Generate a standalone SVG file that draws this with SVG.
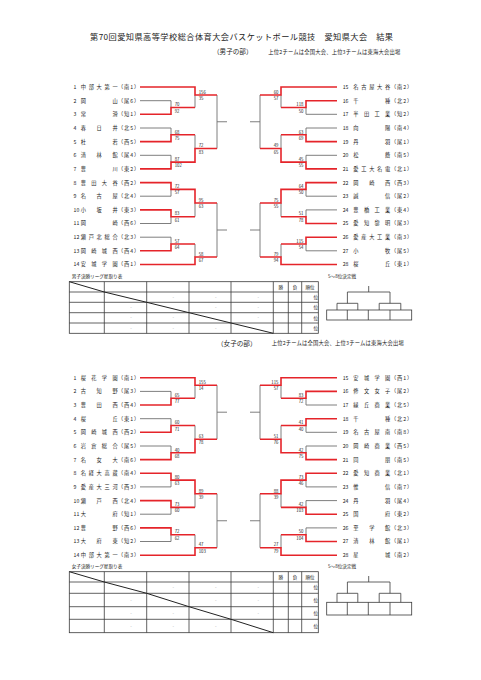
<svg xmlns="http://www.w3.org/2000/svg" width="481" height="680" viewBox="0 0 481 680">
<style>
text{font-family:"Noto Sans CJK JP","Noto Sans",sans-serif;fill:#222}
.t{font-size:5.2px}
.n2{letter-spacing:26.6px}
.n3{letter-spacing:10.7px}
.n4{letter-spacing:5.4px}
.n5{letter-spacing:2.75px}
.p{letter-spacing:0.9px}
.s{font-size:4.3px;fill:#333}
.e{text-anchor:end}
.w{fill:none;stroke:#e5242a;stroke-width:1.6}
.l{fill:none;stroke:#707070;stroke-width:0.9}
.tb{fill:none;stroke:#3a3a3a;stroke-width:0.8}
.dg{fill:none;stroke:#222;stroke-width:1}
.h{font-size:4.6px}
.m{text-anchor:middle}
.d{font-size:4.5px;fill:#9a9a9a;text-anchor:middle}
.ttl{font-size:8.2px}
.sec{font-size:6.6px}
.note{font-size:5.3px}
</style>
<rect width="481" height="680" fill="#fff"/>
<g id="title">
<text class="ttl" x="90" y="39.7" textLength="303">第70回愛知県高等学校総合体育大会バスケットボール競技　愛知県大会　結果</text>
<text class="sec" x="213" y="54.1">（男子の部）</text>
<text class="note" x="268.3" y="53.8" textLength="132">上位2チームは全国大会、上位3チームは東海大会出場</text>
<text class="sec" x="217" y="345.7">（女子の部）</text>
<text class="note" x="271.7" y="345.4" textLength="132">上位2チームは全国大会、上位3チームは東海大会出場</text>
</g>
<g id="connectors">
<path class="l" d="M140 100.7H171V107.5M195 95V107.5M140 128H171V134.8M140 155.3H171V162.1M195 134.8V148.5M217 95V148.5M217 121.75H227M140 196.2H171V189.4M140 223.5H171V216.7M195 203V216.7M140 237.2H171V244M195 244V257M217 203V257M217 230H227M337 114.3H306V107.5M281 95V107.5M337 128H306V134.8M337 155.3H306V162.1M281 134.8V148.5M260 95V148.5M260 121.75H250M337 196.2H306V189.4M337 209.9H306V216.7M281 203V216.7M337 250.8H306V244M281 244V257M260 203V257M260 230H250"/>
<path class="l" d="M140 391.4H171V398.2M195 385.2V398.2M140 418.7H171V425.5M140 446H171V452.8M195 425.5V439.2M217 385.2V439.2M217 412.2H227M140 486.9H171V480.1M140 514.2H171V507.4M195 493.8V507.4M140 541.5H171V534.7M195 534.7V547.7M217 493.8V547.7M217 520.75H227M337 405H306V398.2M281 385.2V398.2M337 432.3H306V425.5M337 446H306V452.8M281 425.5V439.2M260 385.2V439.2M260 412.2H250M337 486.9H306V480.1M337 500.6H306V507.4M281 493.8V507.4M337 527.9H306V534.7M281 534.7V547.7M260 493.8V547.7M260 520.75H250"/>
<path class="w" d="M140 87H195V95H217M140 114.3H171V107.5H195M140 141.6H171V134.8H195M140 168.9H171V162.1H195V148.5H217M140 182.6H171V189.4H195V203H217M140 209.9H171V216.7H195M140 250.8H171V244H195M140 264.5H195V257H217M337 87H281V95H260M337 100.7H306V107.5H281M337 141.6H306V134.8H281M337 168.9H306V162.1H281V148.5H260M337 182.6H306V189.4H281V203H260M337 223.5H306V216.7H281M337 237.2H306V244H281M337 264.5H281V257H260"/>
<path class="w" d="M140 377.7H195V385.2H217M140 405H171V398.2H195M140 432.3H171V425.5H195M140 459.6H171V452.8H195V439.2H217M140 473.3H171V480.1H195V493.8H217M140 500.6H171V507.4H195M140 527.9H171V534.7H195M140 555.2H195V547.7H217M337 377.7H281V385.2H260M337 391.4H306V398.2H281M337 418.7H306V425.5H281M337 459.6H306V452.8H281V439.2H260M337 473.3H306V480.1H281V493.8H260M337 514.2H306V507.4H281M337 541.5H306V534.7H281M337 555.2H281V547.7H260"/>
</g>
<g id="scores-boys" class="s">
<text x="174.7" y="106.2">70</text><text x="174.7" y="112.5">92</text>
<text x="198.7" y="93.7">156</text><text x="198.7" y="100">35</text>
<text x="174.7" y="133.5">68</text><text x="174.7" y="139.8">75</text>
<text x="174.7" y="160.8">87</text><text x="174.7" y="167.1">102</text>
<text x="198.7" y="147.2">72</text><text x="198.7" y="153.5">83</text>
<text x="174.7" y="188.1">72</text><text x="174.7" y="194.4">57</text>
<text x="174.7" y="215.4">83</text><text x="174.7" y="221.7">61</text>
<text x="198.7" y="201.7">95</text><text x="198.7" y="208">63</text>
<text x="174.7" y="242.7">57</text><text x="174.7" y="249">64</text>
<text x="198.7" y="255.7">58</text><text x="198.7" y="262">67</text>
<g class="e">
<text x="303.5" y="106.2">118</text><text x="303.5" y="112.5">50</text>
<text x="278.5" y="93.7">60</text><text x="278.5" y="100">57</text>
<text x="303.5" y="133.5">63</text><text x="303.5" y="139.8">69</text>
<text x="303.5" y="160.8">45</text><text x="303.5" y="167.1">55</text>
<text x="278.5" y="147.2">49</text><text x="278.5" y="153.5">65</text>
<text x="303.5" y="188.1">64</text><text x="303.5" y="194.4">50</text>
<text x="303.5" y="215.4">51</text><text x="303.5" y="221.7">78</text>
<text x="278.5" y="201.7">75</text><text x="278.5" y="208">55</text>
<text x="303.5" y="242.7">115</text><text x="303.5" y="249">54</text>
<text x="278.5" y="255.7">79</text><text x="278.5" y="262">94</text>
</g>
</g>
<g id="scores-girls" class="s">
<text x="174.7" y="396.9">65</text><text x="174.7" y="403.2">77</text>
<text x="198.7" y="383.9">155</text><text x="198.7" y="390.2">14</text>
<text x="174.7" y="424.2">60</text><text x="174.7" y="430.5">71</text>
<text x="174.7" y="451.5">40</text><text x="174.7" y="457.8">68</text>
<text x="198.7" y="437.9">63</text><text x="198.7" y="444.2">78</text>
<text x="174.7" y="478.8">80</text><text x="174.7" y="485.1">63</text>
<text x="174.7" y="506.1">73</text><text x="174.7" y="512.4">60</text>
<text x="198.7" y="492.5">89</text><text x="198.7" y="498.8">39</text>
<text x="174.7" y="533.4">72</text><text x="174.7" y="539.7">62</text>
<text x="198.7" y="546.4">47</text><text x="198.7" y="552.7">103</text>
<g class="e">
<text x="303.5" y="396.9">83</text><text x="303.5" y="403.2">72</text>
<text x="278.5" y="383.9">115</text><text x="278.5" y="390.2">57</text>
<text x="303.5" y="424.2">41</text><text x="303.5" y="430.5">40</text>
<text x="303.5" y="451.5">42</text><text x="303.5" y="457.8">75</text>
<text x="278.5" y="437.9">51</text><text x="278.5" y="444.2">76</text>
<text x="303.5" y="478.8">73</text><text x="303.5" y="485.1">46</text>
<text x="303.5" y="506.1">42</text><text x="303.5" y="512.4">103</text>
<text x="278.5" y="492.5">88</text><text x="278.5" y="498.8">39</text>
<text x="303.5" y="533.4">50</text><text x="303.5" y="539.7">104</text>
<text x="278.5" y="546.4">27</text><text x="278.5" y="552.7">79</text>
</g>
</g>
<g id="boys-teams" class="t">
<g id="b1" transform="translate(0 88.9)"><text x="73.5">1</text><text x="80.7"><tspan class="n5">中部大第</tspan>一</text><text class="p" x="118">（南1）</text></g>
<g id="b2" transform="translate(0 102.6)"><text x="73.5">2</text><text x="80.7"><tspan class="n2">岡</tspan>山</text><text class="p" x="118">（尾6）</text></g>
<g id="b3" transform="translate(0 116.2)"><text x="73.5">3</text><text x="80.7"><tspan class="n2">常</tspan>滑</text><text class="p" x="118">（知1）</text></g>
<g id="b4" transform="translate(0 129.9)"><text x="73.5">4</text><text x="80.7"><tspan class="n3">春日</tspan>井</text><text class="p" x="118">（北5）</text></g>
<g id="b5" transform="translate(0 143.5)"><text x="73.5">5</text><text x="80.7"><tspan class="n2">杜</tspan>若</text><text class="p" x="118">（西5）</text></g>
<g id="b6" transform="translate(0 157.2)"><text x="73.5">6</text><text x="80.7"><tspan class="n3">清林</tspan>館</text><text class="p" x="118">（尾4）</text></g>
<g id="b7" transform="translate(0 170.8)"><text x="73.5">7</text><text x="80.7"><tspan class="n2">豊</tspan>川</text><text class="p" x="118">（東2）</text></g>
<g id="b8" transform="translate(0 184.5)"><text x="73.5">8</text><text x="80.7"><tspan class="n4">豊田大</tspan>谷</text><text class="p" x="118">（西2）</text></g>
<g id="b9" transform="translate(0 198.1)"><text x="73.5">9</text><text x="80.7"><tspan class="n3">名古</tspan>屋</text><text class="p" x="118">（北4）</text></g>
<g id="b10" transform="translate(0 211.8)"><text x="73.5">10</text><text x="80.7"><tspan class="n3">小坂</tspan>井</text><text class="p" x="118">（東3）</text></g>
<g id="b11" transform="translate(0 225.4)"><text x="73.5">11</text><text x="80.7"><tspan class="n2">岡</tspan>崎</text><text class="p" x="118">（西6）</text></g>
<g id="b12" transform="translate(0 239.1)"><text x="73.5">12</text><text x="80.7"><tspan class="n5">瀬戸北総</tspan>合</text><text class="p" x="118">（北3）</text></g>
<g id="b13" transform="translate(0 252.7)"><text x="73.5">13</text><text x="80.7"><tspan class="n4">岡崎城</tspan>西</text><text class="p" x="118">（西4）</text></g>
<g id="b14" transform="translate(0 266.4)"><text x="73.5">14</text><text x="80.7"><tspan class="n4">安城学</tspan>園</text><text class="p" x="118">（西1）</text></g>
<g id="b15" transform="translate(0 88.9)"><text x="342.7">15</text><text x="353.3"><tspan class="n5">名古屋大</tspan>谷</text><text class="p" x="391">（南2）</text></g>
<g id="b16" transform="translate(0 102.6)"><text x="342.7">16</text><text x="353.3"><tspan class="n2">千</tspan>種</text><text class="p" x="391">（北2）</text></g>
<g id="b17" transform="translate(0 116.2)"><text x="342.7">17</text><text x="353.3"><tspan class="n4">半田工</tspan>業</text><text class="p" x="391">（知2）</text></g>
<g id="b18" transform="translate(0 129.9)"><text x="342.7">18</text><text x="353.3"><tspan class="n2">向</tspan>陽</text><text class="p" x="391">（南4）</text></g>
<g id="b19" transform="translate(0 143.5)"><text x="342.7">19</text><text x="353.3"><tspan class="n2">丹</tspan>羽</text><text class="p" x="391">（尾1）</text></g>
<g id="b20" transform="translate(0 157.2)"><text x="342.7">20</text><text x="353.3"><tspan class="n2">松</tspan>蔭</text><text class="p" x="391">（南5）</text></g>
<g id="b21" transform="translate(0 170.8)"><text x="342.7">21</text><text x="353.3"><tspan class="n5">愛工大名</tspan>電</text><text class="p" x="391">（北1）</text></g>
<g id="b22" transform="translate(0 184.5)"><text x="342.7">22</text><text x="353.3"><tspan class="n3">岡崎</tspan>西</text><text class="p" x="391">（西3）</text></g>
<g id="b23" transform="translate(0 198.1)"><text x="342.7">23</text><text x="353.3"><tspan class="n2">誠</tspan>信</text><text class="p" x="391">（尾2）</text></g>
<g id="b24" transform="translate(0 211.8)"><text x="342.7">24</text><text x="353.3"><tspan class="n4">豊橋工</tspan>業</text><text class="p" x="391">（東4）</text></g>
<g id="b25" transform="translate(0 225.4)"><text x="342.7">25</text><text x="353.3"><tspan class="n4">愛知黎</tspan>明</text><text class="p" x="391">（尾3）</text></g>
<g id="b26" transform="translate(0 239.1)"><text x="342.7">26</text><text x="353.3"><tspan class="n5">愛産大工</tspan>業</text><text class="p" x="391">（南3）</text></g>
<g id="b27" transform="translate(0 252.7)"><text x="342.7">27</text><text x="353.3"><tspan class="n2">小</tspan>牧</text><text class="p" x="391">（尾5）</text></g>
<g id="b28" transform="translate(0 266.4)"><text x="342.7">28</text><text x="353.3"><tspan class="n2">桜</tspan>丘</text><text class="p" x="391">（東1）</text></g>
</g>
<g id="girls-teams" class="t">
<g id="g1" transform="translate(0 379.6)"><text x="73.5">1</text><text x="80.7"><tspan class="n4">桜花学</tspan>園</text><text class="p" x="118">（南1）</text></g>
<g id="g2" transform="translate(0 393.3)"><text x="73.5">2</text><text x="80.7"><tspan class="n3">古知</tspan>野</text><text class="p" x="118">（尾3）</text></g>
<g id="g3" transform="translate(0 406.9)"><text x="73.5">3</text><text x="80.7"><tspan class="n3">豊田</tspan>西</text><text class="p" x="118">（西4）</text></g>
<g id="g4" transform="translate(0 420.6)"><text x="73.5">4</text><text x="80.7"><tspan class="n2">桜</tspan>丘</text><text class="p" x="118">（東1）</text></g>
<g id="g5" transform="translate(0 434.2)"><text x="73.5">5</text><text x="80.7"><tspan class="n4">岡崎城</tspan>西</text><text class="p" x="118">（西2）</text></g>
<g id="g6" transform="translate(0 447.9)"><text x="73.5">6</text><text x="80.7"><tspan class="n4">岩倉総</tspan>合</text><text class="p" x="118">（尾5）</text></g>
<g id="g7" transform="translate(0 461.5)"><text x="73.5">7</text><text x="80.7"><tspan class="n3">名女</tspan>大</text><text class="p" x="118">（南6）</text></g>
<g id="g8" transform="translate(0 475.2)"><text x="73.5">8</text><text x="80.7"><tspan class="n5">名経大高</tspan>蔵</text><text class="p" x="118">（南4）</text></g>
<g id="g9" transform="translate(0 488.8)"><text x="73.5">9</text><text x="80.7"><tspan class="n5">愛産大三</tspan>河</text><text class="p" x="118">（西3）</text></g>
<g id="g10" transform="translate(0 502.5)"><text x="73.5">10</text><text x="80.7"><tspan class="n3">瀬戸</tspan>西</text><text class="p" x="118">（北4）</text></g>
<g id="g11" transform="translate(0 516.1)"><text x="73.5">11</text><text x="80.7"><tspan class="n2">大</tspan>府</text><text class="p" x="118">（知1）</text></g>
<g id="g12" transform="translate(0 529.8)"><text x="73.5">12</text><text x="80.7"><tspan class="n2">豊</tspan>野</text><text class="p" x="118">（西6）</text></g>
<g id="g13" transform="translate(0 543.4)"><text x="73.5">13</text><text x="80.7"><tspan class="n3">大府</tspan>東</text><text class="p" x="118">（知2）</text></g>
<g id="g14" transform="translate(0 557.1)"><text x="73.5">14</text><text x="80.7"><tspan class="n5">中部大第</tspan>一</text><text class="p" x="118">（南3）</text></g>
<g id="g15" transform="translate(0 379.6)"><text x="342.7">15</text><text x="353.3"><tspan class="n4">安城学</tspan>園</text><text class="p" x="391">（西1）</text></g>
<g id="g16" transform="translate(0 393.3)"><text x="342.7">16</text><text x="353.3"><tspan class="n4">修文女</tspan>子</text><text class="p" x="391">（尾2）</text></g>
<g id="g17" transform="translate(0 406.9)"><text x="342.7">17</text><text x="353.3"><tspan class="n4">緑丘商</tspan>業</text><text class="p" x="391">（北5）</text></g>
<g id="g18" transform="translate(0 420.6)"><text x="342.7">18</text><text x="353.3"><tspan class="n2">千</tspan>種</text><text class="p" x="391">（北2）</text></g>
<g id="g19" transform="translate(0 434.2)"><text x="342.7">19</text><text x="353.3"><tspan class="n4">名古屋</tspan>南</text><text class="p" x="391">（南8）</text></g>
<g id="g20" transform="translate(0 447.9)"><text x="342.7">20</text><text x="353.3"><tspan class="n4">岡崎商</tspan>業</text><text class="p" x="391">（西5）</text></g>
<g id="g21" transform="translate(0 461.5)"><text x="342.7">21</text><text x="353.3"><tspan class="n2">同</tspan>朋</text><text class="p" x="391">（南5）</text></g>
<g id="g22" transform="translate(0 475.2)"><text x="342.7">22</text><text x="353.3"><tspan class="n4">愛知商</tspan>業</text><text class="p" x="391">（北1）</text></g>
<g id="g23" transform="translate(0 488.8)"><text x="342.7">23</text><text x="353.3"><tspan class="n2">惟</tspan>信</text><text class="p" x="391">（南7）</text></g>
<g id="g24" transform="translate(0 502.5)"><text x="342.7">24</text><text x="353.3"><tspan class="n2">丹</tspan>羽</text><text class="p" x="391">（尾4）</text></g>
<g id="g25" transform="translate(0 516.1)"><text x="342.7">25</text><text x="353.3"><tspan class="n2">国</tspan>府</text><text class="p" x="391">（東2）</text></g>
<g id="g26" transform="translate(0 529.8)"><text x="342.7">26</text><text x="353.3"><tspan class="n3">至学</tspan>館</text><text class="p" x="391">（北3）</text></g>
<g id="g27" transform="translate(0 543.4)"><text x="342.7">27</text><text x="353.3"><tspan class="n3">清林</tspan>館</text><text class="p" x="391">（尾1）</text></g>
<g id="g28" transform="translate(0 557.1)"><text x="342.7">28</text><text x="353.3"><tspan class="n2">星</tspan>城</text><text class="p" x="391">（南2）</text></g>
</g>
<g id="boys-league">
<text class="h" x="71.7" y="277.6">男子決勝リーグ星取り表</text>
<rect class="tb" x="69.3" y="281.7" width="249" height="51.6"/>
<path class="tb" d="M69.3 292H318.3M69.3 302.3H318.3M69.3 312.7H318.3M69.3 323H318.3M104.3 281.7V333.3M146.7 281.7V333.3M189 281.7V333.3M231 281.7V333.3M273.3 281.7V333.3M288.3 281.7V333.3M301.7 281.7V333.3"/>
<path class="dg" d="M69.3 281.7L104.3 292L146.7 302.3L189 312.7L231 323L273.3 333.3"/>
<text class="h m" x="280.8" y="288.5">勝</text><text class="h m" x="295" y="288.5">負</text><text class="h m" x="310" y="288.5">順位</text>
<text class="h e" x="318" y="298.8">位</text><text class="h e" x="318" y="309.2">位</text><text class="h e" x="318" y="319.5">位</text><text class="h e" x="318" y="329.8">位</text>
<text class="d" x="173.3" y="298.6">-</text><text class="d" x="215.7" y="298.6">-</text><text class="d" x="258.3" y="298.6">-</text>
<text class="d" x="131" y="309">-</text><text class="d" x="215.7" y="309">-</text><text class="d" x="258.3" y="309">-</text>
<text class="d" x="131" y="319.3">-</text><text class="d" x="173.3" y="319.3">-</text><text class="d" x="258.3" y="319.3">-</text>
<text class="d" x="131" y="329.6">-</text><text class="d" x="173.3" y="329.6">-</text><text class="d" x="215.7" y="329.6">-</text>
</g>
<g id="boys-5to8">
<text class="h" x="328" y="277.6">5～8位決定戦</text>
<path class="tb" d="M368.7 286V292M347.4 292H390M347.4 292V303.3M390 292V303.3M337 303.3H357.8M379.2 303.3H400.8M337 303.3V310M357.8 303.3V310M379.2 303.3V310M400.8 303.3V310M347.3 310V320M368.3 310V320M390 310V320"/>
<rect class="tb" x="326.7" y="310" width="85" height="10"/>
</g>
<g id="girls-league">
<text class="h" x="71.7" y="567.6">女子決勝リーグ星取り表</text>
<rect class="tb" x="69.3" y="571.7" width="249" height="61"/>
<path class="tb" d="M69.3 582H318.3M69.3 593.3H318.3M69.3 606.7H318.3M69.3 619.3H318.3M104.3 571.7V632.7M146.7 571.7V632.7M189 571.7V632.7M231 571.7V632.7M273.3 571.7V632.7M288.3 571.7V632.7M301.7 571.7V632.7"/>
<path class="dg" d="M69.3 571.7L104.3 582L146.7 593.3L189 606.7L231 619.3L273.3 632.7"/>
<text class="h m" x="280.8" y="578.5">勝</text><text class="h m" x="295" y="578.5">負</text><text class="h m" x="310" y="578.5">順位</text>
<text class="h e" x="318" y="589.3">位</text><text class="h e" x="318" y="601.7">位</text><text class="h e" x="318" y="614.7">位</text><text class="h e" x="318" y="627.7">位</text>
<text class="d" x="173.3" y="589.1">-</text><text class="d" x="215.7" y="589.1">-</text><text class="d" x="258.3" y="589.1">-</text>
<text class="d" x="131" y="601.5">-</text><text class="d" x="215.7" y="601.5">-</text><text class="d" x="258.3" y="601.5">-</text>
<text class="d" x="131" y="614.5">-</text><text class="d" x="173.3" y="614.5">-</text><text class="d" x="258.3" y="614.5">-</text>
<text class="d" x="131" y="627.5">-</text><text class="d" x="173.3" y="627.5">-</text><text class="d" x="215.7" y="627.5">-</text>
</g>
<g id="girls-5to8">
<text class="h" x="328" y="567.6">5～8位決定戦</text>
<path class="tb" d="M368.7 576V582M347.4 582H390M347.4 582V593.3M390 582V593.3M337 593.3H357.8M379.2 593.3H400.8M337 593.3V602.3M357.8 593.3V602.3M379.2 593.3V602.3M400.8 593.3V602.3M347.3 602.3V615M368.3 602.3V615M390 602.3V615"/>
<rect class="tb" x="326.7" y="602.3" width="85" height="12.7"/>
</g>
</svg>
